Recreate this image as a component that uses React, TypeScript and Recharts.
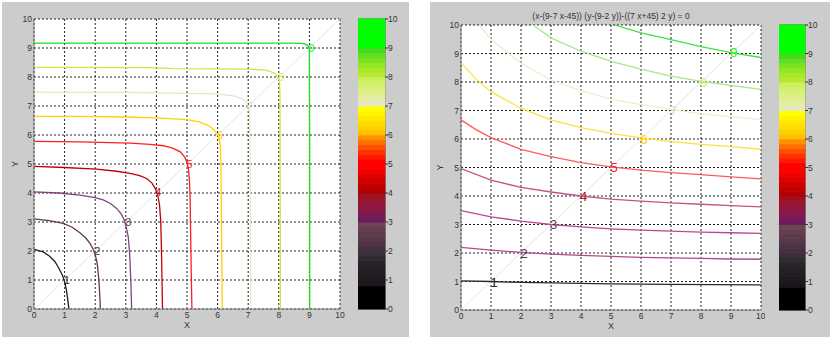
import React from "react"
import {
    Bar,
    BarChart,
    CartesianGrid,
    ComposedChart,
    Line,
    ReferenceArea,
    Scatter,
    XAxis,
    YAxis,
} from "recharts"

// axis ticks (both panels, both axes)
const ticks = [0, 1, 2, 3, 4, 5, 6, 7, 8, 9, 10]
const levels = ["1", "2", "3", "4", "5", "6", "7", "8", "9"]

// left panel contour lines, [x, y]
const left1 = [[0, 2.06], [0.3, 1.97], [0.51, 1.82], [0.68, 1.64], [0.79, 1.45], [0.88, 1.27], [0.95, 1.11], [1.01, 0.9], [1.06, 0.65], [1.1, 0.35], [1.14, 0]]
const left2 = [[0, 3.11], [0.5, 3.05], [0.95, 2.95], [1.25, 2.82], [1.5, 2.63], [1.7, 2.44], [1.83, 2.26], [1.93, 2.07], [1.99, 1.91], [2.05, 1.65], [2.08, 1.45], [2.11, 1.1], [2.13, 0.85], [2.15, 0.45], [2.17, 0]]
const left3 = [[0, 4.04], [0.8, 4.0], [1.5, 3.93], [2.0, 3.84], [2.26, 3.76], [2.5, 3.64], [2.7, 3.47], [2.85, 3.28], [2.95, 3.07], [3.02, 2.8], [3.08, 2.49], [3.12, 2.0], [3.14, 1.6], [3.17, 0.8], [3.19, 0]]
const left4 = [[0, 4.92], [1.0, 4.88], [2.04, 4.82], [2.7, 4.75], [3.14, 4.68], [3.45, 4.6], [3.68, 4.5], [3.85, 4.35], [3.96, 4.16], [4.04, 3.95], [4.1, 3.6], [4.14, 3.07], [4.16, 2.3], [4.18, 1.2], [4.2, 0]]
const left5 = [[0, 5.78], [1.5, 5.76], [3.14, 5.72], [3.8, 5.68], [4.23, 5.63], [4.55, 5.54], [4.78, 5.42], [4.92, 5.25], [5.0, 5.05], [5.05, 4.8], [5.08, 4.4], [5.1, 3.9], [5.12, 2.5], [5.14, 1.2], [5.16, 0]]
const left6 = [[0, 6.64], [1.5, 6.64], [2.92, 6.62], [4.0, 6.59], [5.0, 6.53], [5.4, 6.45], [5.64, 6.35], [5.82, 6.24], [5.94, 6.1], [6.04, 5.95], [6.09, 5.6], [6.11, 5.0], [6.12, 3.8], [6.14, 1.5], [6.15, 0]]
const left7 = [[0, 7.48], [3, 7.47], [5.97, 7.42], [6.4, 7.37], [6.62, 7.32], [6.82, 7.24], [6.95, 7.12], [7.02, 6.95], [7.05, 6.7], [7.06, 5.5], [7.07, 3.0], [7.08, 0.12]]
const left8 = [[0, 8.33], [3.8, 8.32], [4.6, 8.29], [7.06, 8.27], [7.4, 8.25], [7.6, 8.23], [7.78, 8.17], [7.9, 8.1], [7.98, 7.98], [8.02, 7.85], [8.04, 7.4], [8.04, 6.87], [8.05, 3.0], [8.05, 0]]
const left9 = [[0, 9.17], [4, 9.17], [8.47, 9.17], [8.7, 9.16], [8.86, 9.14], [8.95, 9.08], [8.99, 9.0], [9.0, 8.83], [9.01, 5.0], [9.01, 0]]

const leftLabelX = [1.07, 2.07, 3.08, 4.06, 5.08, 6.08, 7.06, 8.07, 9.07]
const leftLabelY = [1.0, 2.01, 3.01, 4.02, 5.0, 6.0, 7.0, 8.0, 9.0]
const leftLineColors = ["#1e1e1e", "#5e3a54", "#86427c", "#c00000", "#ff1e1e", "#ffd200", "#e6e6c4", "#c4ec40", "#18e018"]

// right panel contour lines
const right1 = [[0, 1.02], [1, 1.0], [2, 0.97], [3, 0.95], [5, 0.92], [7, 0.9], [10, 0.88]]
const right2 = [[0, 2.2], [1, 2.1], [2, 2.02], [3, 1.96], [4, 1.92], [5, 1.88], [6, 1.85], [7, 1.83], [8, 1.81], [9, 1.79], [10, 1.78]]
const right3 = [[0, 3.49], [1, 3.27], [2, 3.12], [3, 3.0], [4, 2.92], [5, 2.85], [6, 2.8], [7, 2.77], [8, 2.73], [9, 2.71], [10, 2.69]]
const right4 = [[0, 4.96], [1, 4.56], [2, 4.3], [3, 4.14], [4, 4.0], [5, 3.89], [6, 3.82], [7, 3.76], [8, 3.71], [9, 3.66], [10, 3.62]]
const right5 = [[0, 6.67], [0.5, 6.33], [1, 6.05], [2, 5.64], [3, 5.38], [4, 5.17], [5, 5.02], [6, 4.91], [7, 4.82], [8, 4.75], [9, 4.67], [10, 4.6]]
const right6 = [[0, 8.68], [0.5, 8.1], [1, 7.66], [2, 7.08], [3, 6.67], [4, 6.4], [5, 6.2], [6, 6.04], [7, 5.91], [8, 5.81], [9, 5.73], [10, 5.64]]
const right7 = [[0.61, 10], [1, 9.5], [2, 8.66], [3, 8.07], [4, 7.7], [5, 7.4], [6, 7.21], [7, 7.04], [8, 6.88], [9, 6.78], [10, 6.69]]
const right8 = [[2.4, 10], [3, 9.55], [4, 9.08], [5, 8.72], [6, 8.45], [7, 8.21], [8, 8.02], [9, 7.88], [10, 7.74]]
const right9 = [[5.12, 10], [6, 9.72], [7, 9.49], [8, 9.24], [9, 9.03], [10, 8.86]]

const rightLabelX = [1.1, 2.1, 3.08, 4.08, 5.1, 6.1, 7.08, 8.08, 9.09]
const rightLabelY = [0.97, 1.99, 3.0, 4.0, 4.99, 5.99, 7.0, 8.0, 9.02]
const rightLineColors = ["#2a2a2a", "#b04a88", "#b84a8c", "#c8508c", "#ff5a5a", "#ffe040", "#eeeecc", "#a8e888", "#40e040"]

const labelColors = ["#1e1e1e", "#4e3848", "#6a3462", "#b81020", "#ff2020", "#ffd000", "#e0e0c0", "#d0f060", "#20f020"]

const diagonal = [[0, 0], [10, 10]]

// colorbar: upper edge of each band, and its colour
const cbTop = [0.8, 1, 1.17, 1.33, 1.5, 1.67, 1.83, 2, 2.17, 2.33, 2.5, 2.67, 2.83, 3, 3.17, 3.33, 3.5, 3.67, 3.83, 4, 4.17, 4.33, 4.5, 4.67, 4.83, 5, 5.17, 5.33, 5.5, 5.67, 5.83, 6, 6.17, 6.33, 6.5, 6.67, 6.83, 7, 7.17, 7.33, 7.5, 7.67, 7.83, 8, 8.17, 8.33, 8.5, 8.67, 8.83, 9, 10]
const cbColors = [
    "#000000", "#1a161a", "#1e1a1e", "#221d22", "#262026", "#2a242a", "#302a32", "#363038",
    "#463040", "#4c3444", "#553848", "#5c3c4c", "#643f50", "#6c4454",
    "#6a1a5e", "#7a1a50", "#881848", "#901840", "#981530", "#a01020",
    "#b00000", "#c00000", "#d00000", "#e00000", "#f00000", "#ff0000",
    "#ff0000", "#ff1a00", "#ff3300", "#ff5000", "#ff7000", "#ff9000",
    "#ffc000", "#ffd000", "#ffdc00", "#ffe800", "#fff400", "#ffff00",
    "#e8e8c0", "#e4eeaa", "#e0f090", "#dcf080", "#d4f070", "#ccf060",
    "#b8e830", "#a8e828", "#90e820", "#78e420", "#60e020", "#48d820",
    "#00ff00",
]

const FONT = "'Liberation Sans', Arial, sans-serif"
const BG = "#cccccc"

const toPts = (arr: number[][]) => arr.map(([x, y]) => ({ x, y }))

const cbRow: Record<string, number | string> = { name: "cb" }
cbTop.forEach((t, i) => {
    cbRow["b" + i] = +(t - (i === 0 ? 0 : cbTop[i - 1])).toFixed(3)
})

type ContourProps = {
    left: number
    width: number
    margin: { top: number; right: number; bottom: number; left: number }
    xAxisHeight: number
    xLabelOffset: number
    yLabelX: number
    curves: number[][][]
    lineColors: string[]
    labelX: number[]
    labelY: number[]
    labelSize: number
}

const tickStyle = { fontSize: 8.5, fill: "#333", fontFamily: FONT }

const Contour = (p: ContourProps) => {
    const labels = levels.map((t, i) => ({ x: p.labelX[i], y: p.labelY[i], t, c: labelColors[i] }))
    return (
        <div style={{ position: "absolute", left: p.left, top: 0 }}>
            <ComposedChart width={p.width} height={337} margin={p.margin}>
                <CartesianGrid fill="#fff" stroke="#222" strokeDasharray="2 2" />
                <XAxis
                    type="number"
                    dataKey="x"
                    domain={[0, 10]}
                    ticks={ticks}
                    allowDataOverflow
                    height={p.xAxisHeight}
                    tickLine={false}
                    tickSize={0}
                    tickMargin={3}
                    stroke="#808080"
                    tick={tickStyle}
                    label={{ value: "X", position: "insideBottom", offset: p.xLabelOffset, style: { ...tickStyle, fontSize: 9 } }}
                />
                <YAxis
                    type="number"
                    dataKey="y"
                    domain={[0, 10]}
                    ticks={ticks}
                    allowDataOverflow
                    width={30}
                    tickLine={false}
                    tickSize={0}
                    tickMargin={2}
                    stroke="#808080"
                    tick={tickStyle}
                    label={{
                        content: (lp: any) => {
                            const vb = lp.viewBox
                            const cy = vb.y + vb.height / 2
                            return (
                                <text
                                    x={p.yLabelX}
                                    y={cy}
                                    transform={`rotate(-90 ${p.yLabelX} ${cy})`}
                                    textAnchor="middle"
                                    dominantBaseline="central"
                                    style={{ ...tickStyle, fontSize: 9 }}
                                >
                                    Y
                                </text>
                            )
                        },
                    }}
                />
                <Line data={toPts(diagonal)} dataKey="y" stroke="#e4e4e4" strokeWidth={1} dot={false} isAnimationActive={false} />
                {p.curves.map((c, i) => (
                    <Line
                        key={i}
                        data={toPts(c)}
                        dataKey="y"
                        type="linear"
                        stroke={p.lineColors[i]}
                        strokeWidth={1.3}
                        dot={false}
                        activeDot={false}
                        isAnimationActive={false}
                    />
                ))}
                <Scatter
                    data={labels}
                    isAnimationActive={false}
                    shape={(sp: any) => (
                        <text
                            x={sp.cx}
                            y={sp.cy}
                            textAnchor="middle"
                            dominantBaseline="central"
                            fill={sp.payload.c}
                            fontSize={p.labelSize}
                            fontFamily={FONT}
                        >
                            {sp.payload.t}
                        </text>
                    )}
                />
            </ComposedChart>
        </div>
    )
}

const Colorbar = ({ left, top, bottom, barWidth }: { left: number; top: number; bottom: number; barWidth: number }) => (
    <div style={{ position: "absolute", left, top: 0 }}>
        <BarChart
            width={barWidth + 22}
            height={337}
            data={[cbRow]}
            margin={{ top, right: 0, left: 0, bottom }}
            barCategoryGap={0}
        >
            <XAxis dataKey="name" hide />
            <YAxis
                orientation="right"
                type="number"
                domain={[0, 10]}
                ticks={ticks}
                width={22}
                axisLine={false}
                tickSize={3}
                tickMargin={0}
                tickLine={{ stroke: "#333" }}
                tick={{ ...tickStyle, textAnchor: "start" }}
            />
            {cbColors.map((c, i) => (
                <Bar key={i} dataKey={"b" + i} stackId="cb" fill={c} stroke={c} strokeWidth={0.8} isAnimationActive={false} />
            ))}
            <ReferenceArea y1={0} y2={10} fill="none" stroke="#7a7a7a" strokeWidth={1.5} ifOverflow="visible" />
        </BarChart>
    </div>
)

const App = () => (
    <div style={{ position: "absolute", left: 0, top: 0, width: 839, height: 337, background: "#fff", overflow: "hidden" }}>
        <div style={{ position: "absolute", left: 2, top: 2, width: 407, height: 335, background: BG }} />
        <div style={{ position: "absolute", left: 430, top: 2, width: 400, height: 335, background: BG }} />

        <Contour
            left={0}
            width={345}
            margin={{ top: 19, right: 5, bottom: 0, left: 4 }}
            xAxisHeight={28}
            xLabelOffset={9}
            yLabelX={15}
            curves={[left1, left2, left3, left4, left5, left6, left7, left8, left9]}
            lineColors={leftLineColors}
            labelX={leftLabelX}
            labelY={leftLabelY}
            labelSize={11}
        />
        <Colorbar left={358} top={19} bottom={28} barWidth={27} />

        <div
            style={{
                position: "absolute",
                left: 461,
                top: 11,
                width: 300,
                textAlign: "center",
                fontFamily: FONT,
                fontSize: 8.5,
                lineHeight: "10px",
                color: "#333",
                whiteSpace: "nowrap",
            }}
        >
            (x-(9-7 x-45)) (y-(9-2 y))-((7 x+45) 2 y) = 0
        </div>
        <Contour
            left={420}
            width={345}
            margin={{ top: 25, right: 4, bottom: 0, left: 11 }}
            xAxisHeight={27}
            xLabelOffset={8}
            yLabelX={20}
            curves={[right1, right2, right3, right4, right5, right6, right7, right8, right9]}
            lineColors={rightLineColors}
            labelX={rightLabelX}
            labelY={rightLabelY}
            labelSize={13.5}
        />
        <Colorbar left={779} top={25} bottom={27} barWidth={26} />
    </div>
)

export default App
